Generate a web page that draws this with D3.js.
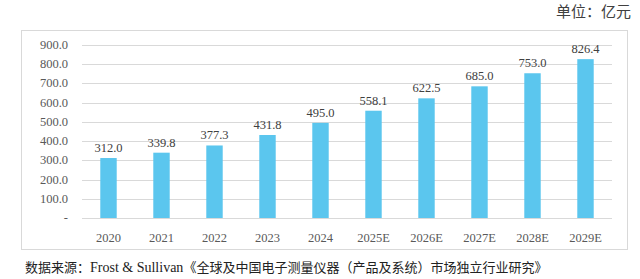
<!DOCTYPE html>
<html><head><meta charset="utf-8">
<script src="https://cdn.jsdelivr.net/npm/d3@7"></script>
<style>body{margin:0;background:#fff}svg{display:block}</style>
</head><body><svg id="c" width="640" height="279"></svg>
<script>
const categories = ["2020","2021","2022","2023","2024","2025E","2026E","2027E","2028E","2029E"];
const values = [312.0,339.8,377.3,431.8,495.0,558.1,622.5,685.0,753.0,826.4];
const yTicks = [0,100,200,300,400,500,600,700,800,900];
const unitLabel = "单位：亿元";
const sourceParts = ["数据来源：", "Frost & Sullivan", "《全球及中国电子测量仪器（产品及系统）市场独立行业研究》"];

const svg = d3.select("#c");
const serif = "'Liberation Serif','Times New Roman',serif";
const cjk = "'Noto Sans CJK SC',sans-serif";
const textCol = "#595959";

const m = {left:82, right:612, top:45, bottom:218};
const x = d3.scaleBand().domain(categories).range([m.left, m.right]).paddingInner(0.69).paddingOuter(0.345);
const y = d3.scaleLinear().domain([0,900]).range([m.bottom, m.top]);

// border
svg.append("rect").attr("x",21.5).attr("y",30.5).attr("width",606).attr("height",219)
  .attr("fill","none").attr("stroke","#d9d9d9");

// grid
svg.append("g").selectAll("line").data(yTicks).join("line")
  .attr("x1",m.left).attr("x2",m.right)
  .attr("y1",d=>Math.round(y(d))+0.5).attr("y2",d=>Math.round(y(d))+0.5)
  .attr("stroke","#d9d9d9");

// y labels
svg.append("g").selectAll("text").data(yTicks).join("text")
  .attr("x",68).attr("y",d=>y(d)+4)
  .attr("text-anchor","end").attr("font-family",serif).attr("font-size",12.5).attr("fill",textCol)
  .text(d=>d===0?"-":d.toFixed(1));

// bars
svg.append("g").selectAll("rect").data(values).join("rect")
  .attr("x",(d,i)=>x(categories[i])).attr("width",x.bandwidth())
  .attr("y",d=>y(d)).attr("height",d=>y(0)-y(d))
  .attr("fill","#5BC6EE");

// value labels
svg.append("g").selectAll("text").data(values).join("text")
  .attr("x",(d,i)=>x(categories[i])+x.bandwidth()/2).attr("y",d=>y(d)-6)
  .attr("text-anchor","middle").attr("font-family",serif).attr("font-size",12.5).attr("fill","#404040")
  .text(d=>d.toFixed(1));

// x labels
svg.append("g").selectAll("text").data(categories).join("text")
  .attr("x",d=>x(d)+x.bandwidth()/2).attr("y",242)
  .attr("text-anchor","middle").attr("font-family",serif).attr("font-size",12.5).attr("fill",textCol)
  .text(d=>d);

// unit
svg.append("text").attr("x",631).attr("y",17).attr("text-anchor","end")
  .attr("font-family",cjk).attr("font-size",15).attr("fill","#404040").text(unitLabel);

// source
const src = svg.append("text").attr("x",25).attr("y",272).attr("fill","#222");
src.append("tspan").attr("font-family",cjk).attr("font-size",13).text(sourceParts[0]);
src.append("tspan").attr("font-family",serif).attr("font-size",14).text(sourceParts[1]);
src.append("tspan").attr("font-family",cjk).attr("font-size",13).text(sourceParts[2]);
</script></body></html>
